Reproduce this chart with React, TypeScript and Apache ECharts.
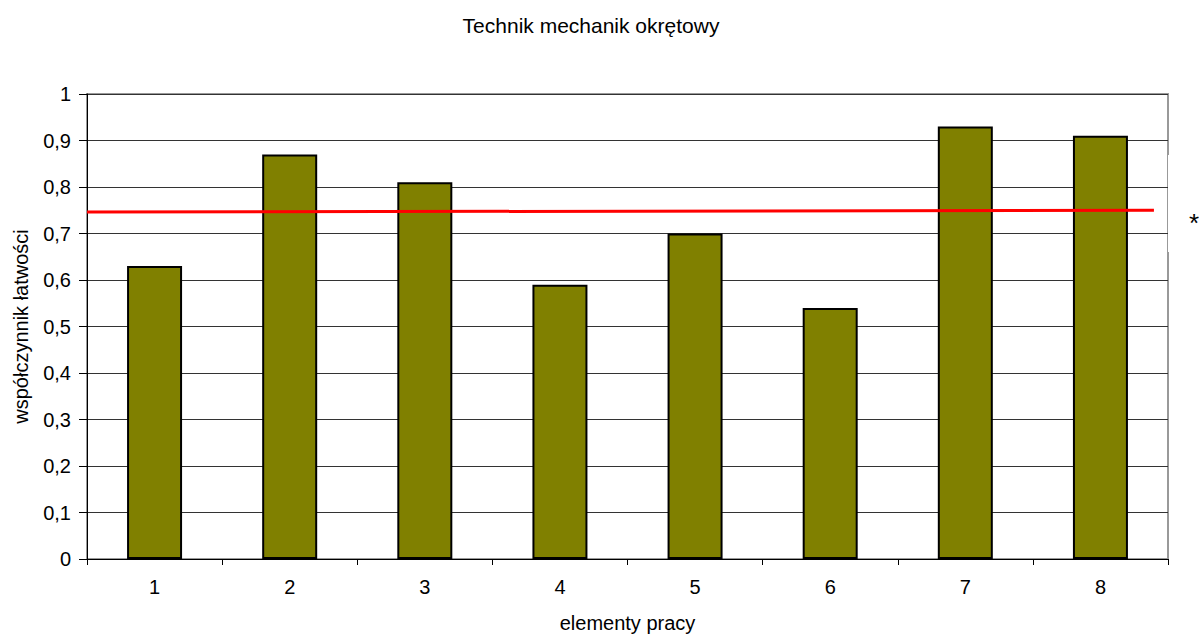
import React, { useEffect, useRef } from "react";
import * as echarts from "echarts";

const categories = ["1", "2", "3", "4", "5", "6", "7", "8"];
const values = [0.63, 0.87, 0.81, 0.59, 0.7, 0.54, 0.93, 0.91];
const meanLine = [
  [0, 0.746],
  [0.987, 0.75],
];
const yTicks = [0, 0.1, 0.2, 0.3, 0.4, 0.5, 0.6, 0.7, 0.8, 0.9, 1];

export default function App() {
  const ref = useRef<HTMLDivElement>(null);
  useEffect(() => {
    const chart = echarts.init(ref.current!, null, { renderer: "svg" });
    const font = "'Liberation Sans', Arial, sans-serif";
    chart.setOption({
      animation: false,
      backgroundColor: "#ffffff",
      textStyle: { fontFamily: font },
      title: {
        text: "Technik mechanik okrętowy",
        left: 586,
        top: 10,
        textAlign: "center",
        textStyle: { fontFamily: font, fontSize: 21, fontWeight: "normal", color: "#000" },
      },
      grid: {
        left: 87,
        right: 31,
        top: 94,
        bottom: 77,
        show: true,
        borderColor: "#999999",
        borderWidth: 2,
        outerBoundsMode: "none",
        containLabel: false,
      },
      xAxis: [
        {
          type: "category",
          data: categories,
          name: "elementy pracy",
          nameLocation: "middle",
          nameGap: 54,
          nameTextStyle: { fontFamily: font, fontSize: 20, color: "#000", verticalAlign: "top" },
          axisLine: { lineStyle: { color: "#000", width: 1 } },
          axisTick: { show: true, length: 6, lineStyle: { color: "#000" } },
          axisLabel: { fontFamily: font, fontSize: 20, color: "#000", margin: 18 },
          splitLine: { show: false },
        },
        {
          type: "value",
          min: 0,
          max: 1,
          show: false,
          splitLine: { show: false },
        },
      ],
      yAxis: {
        type: "value",
        min: 0,
        max: 1,
        interval: 0.1,
        name: "współczynnik łatwości",
        nameLocation: "middle",
        nameGap: 56,
        nameTextStyle: { fontFamily: font, fontSize: 20, color: "#000" },
        axisLine: { show: true, lineStyle: { color: "#000", width: 1 } },
        axisTick: { show: true, length: 8, lineStyle: { color: "#000" } },
        axisLabel: {
          fontFamily: font,
          fontSize: 20,
          color: "#000",
          margin: 16,
          formatter: (v: number) => {
            const t = yTicks.find((x) => Math.abs(x - v) < 1e-9);
            const val = t !== undefined ? t : v;
            return String(Math.round(val * 10) / 10).replace(".", ",");
          },
        },
        splitLine: { show: true, lineStyle: { color: "#333", width: 1 } },
      },
      series: [
        {
          type: "bar",
          data: values,
          barWidth: 55,
          itemStyle: { color: "#808000", borderColor: "#000", borderWidth: 2 },
          z: 2,
        },
        {
          type: "line",
          xAxisIndex: 1,
          data: meanLine,
          symbol: "none",
          lineStyle: { color: "#ff0000", width: 3 },
          z: 3,
        },
      ],
      graphic: [
        {
          type: "rect",
          shape: { x: 1168, y: 155, width: 40, height: 97 },
          style: { fill: "#ffffff" },
          z: 100,
        },
        {
          type: "text",
          x: 1194,
          y: 223,
          style: {
            text: "*",
            font: "26px 'Liberation Sans', Arial, sans-serif",
            fill: "#000",
            align: "center",
            verticalAlign: "middle",
          },
          z: 101,
        },
      ],
    });
    return () => chart.dispose();
  }, []);
  return (
    <div
      ref={ref}
      style={{ position: "fixed", left: 0, top: 0, width: 1199, height: 636 }}
    />
  );
}
